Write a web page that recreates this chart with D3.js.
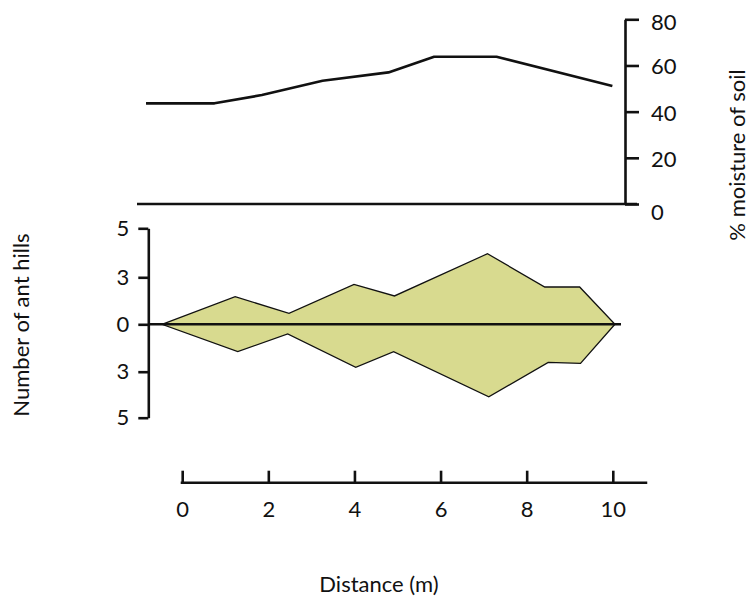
<!DOCTYPE html>
<html>
<head>
<meta charset="utf-8">
<script src="https://cdn.jsdelivr.net/npm/d3@7"></script>
<style>
  html, body { margin: 0; padding: 0; background: #fff; }
  svg text { font-family: Lato, "Open Sans", sans-serif; fill: #111; }
</style>
</head>
<body>
<svg id="chart" width="753" height="601"></svg>
<script>
// ---- data ----
const distanceTicks = [0, 2, 4, 6, 8, 10];
const moistureTicks = [0, 20, 40, 60, 80];
const antTickValues = [-5, -3, 0, 3, 5];
const antTickLabels = ["5", "3", "0", "3", "5"];

const moistureDistance = [-0.84, 0.75, 1.85, 3.26, 4.79, 5.85, 7.30, 9.99];
const moistureValue    = [43.6, 43.6, 47.2, 53.4, 57.0, 63.8, 63.8, 51.1];

const antUpperDistance = [-0.47, 1.23, 2.48, 3.99, 4.93, 7.09, 8.42, 9.23, 10.05];
const antUpperCount    = [0, 1.76, 0.70, 2.55, 1.81, 3.96, 2.38, 2.38, 0];
const antLowerDistance = [-0.47, 1.29, 2.45, 4.03, 4.91, 7.12, 8.50, 9.25, 10.05];
const antLowerCount    = [0, 1.73, 0.61, 2.72, 1.73, 4.09, 2.41, 2.47, 0];

// ---- scales ----
const svg = d3.select("#chart");
const x = d3.scaleLinear().domain([0, 10]).range([182.2, 612.8]);
const yM = d3.scaleLinear().domain([0, 80]).range([204, 19.3]);
const yA = d3.scaleLinear().domain([-5, -3, 0, 3, 5]).range([417.7, 371.7, 324.3, 277.3, 228.3]);

const ink = "#111";
const fs = 22;

// ---- top: moisture ----
svg.append("line")
  .attr("x1", 137).attr("x2", 637)
  .attr("y1", yM(0)).attr("y2", yM(0))
  .attr("stroke", ink).attr("stroke-width", 2.6);

const rightAxis = d3.axisRight(yM).tickValues(moistureTicks).tickSize(14).tickSizeOuter(0).tickPadding(12);
const ra = svg.append("g").attr("transform", "translate(625,0)").call(rightAxis);
ra.select(".domain").attr("stroke", ink).attr("stroke-width", 2.6);
ra.selectAll(".tick line").attr("stroke", ink).attr("stroke-width", 2.6);
ra.selectAll(".tick text").attr("font-size", fs).attr("font-family", "Lato, sans-serif").attr("fill", ink)
  .attr("dy", d => d === 0 ? "0.7em" : (d === 80 ? "0.45em" : "0.38em"));

const moisture = moistureDistance.map((d, i) => [d, moistureValue[i]]);
svg.append("path")
  .datum(moisture)
  .attr("fill", "none").attr("stroke", ink).attr("stroke-width", 2.6)
  .attr("stroke-linejoin", "round")
  .attr("d", d3.line().x(d => x(d[0])).y(d => yM(d[1])));

// ---- bottom: ant hills ----
const upper = antUpperDistance.map((d, i) => [d, antUpperCount[i]]);
const lower = antLowerDistance.map((d, i) => [d, -antLowerCount[i]]);
const outline = upper.concat(lower.slice(1, -1).reverse());
svg.append("path")
  .datum(outline)
  .attr("fill", "#d8da8f").attr("stroke", ink).attr("stroke-width", 1.3)
  .attr("stroke-linejoin", "miter")
  .attr("d", d3.line().x(d => x(d[0])).y(d => yA(d[1])).curve(d3.curveLinearClosed));

const leftAxis = d3.axisLeft(yA).tickValues(antTickValues)
  .tickFormat((d, i) => antTickLabels[i]).tickSize(10).tickSizeOuter(0).tickPadding(9);
const la = svg.append("g").attr("transform", "translate(148.3,0)").call(leftAxis);
la.select(".domain").attr("stroke", ink).attr("stroke-width", 2.6);
la.selectAll(".tick line").attr("stroke", ink).attr("stroke-width", 2.6);
la.selectAll(".tick text").attr("font-size", fs).attr("font-family", "Lato, sans-serif").attr("fill", ink);

svg.append("line")
  .attr("x1", 148.3).attr("x2", 621)
  .attr("y1", yA(0)).attr("y2", yA(0))
  .attr("stroke", ink).attr("stroke-width", 2.6);

// ---- bottom x axis ----
const axisY = 482.7;
const bottomAxis = d3.axisBottom(x).tickValues(distanceTicks).tickSize(-12).tickSizeOuter(0).tickPadding(19);
const ba = svg.append("g").attr("transform", `translate(0,${axisY})`).call(bottomAxis);
ba.select(".domain").remove();
ba.append("line").attr("x1", x(0) - 1.5).attr("x2", x(10.8)).attr("y1", 0).attr("y2", 0)
  .attr("stroke", ink).attr("stroke-width", 2.6);
ba.selectAll(".tick line").attr("stroke", ink).attr("stroke-width", 2.6);
ba.selectAll(".tick text").attr("font-size", fs).attr("font-family", "Lato, sans-serif").attr("fill", ink);

// ---- titles ----
svg.append("text").attr("x", 379).attr("y", 592).attr("text-anchor", "middle")
  .attr("font-size", fs).text("Distance (m)");
svg.append("text").attr("transform", "translate(745,155) rotate(-90)").attr("text-anchor", "middle")
  .attr("font-size", fs).text("% moisture of soil");
svg.append("text").attr("transform", "translate(29,325) rotate(-90)").attr("text-anchor", "middle")
  .attr("font-size", fs).text("Number of ant hills");
</script>
</body>
</html>
